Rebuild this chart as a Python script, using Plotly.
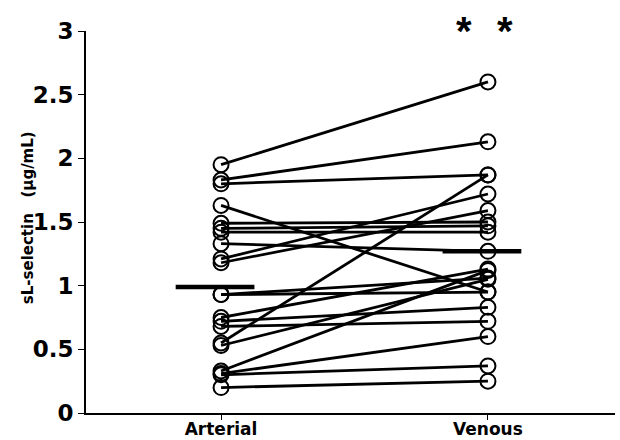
import plotly.graph_objects as go

categories = ["Arterial", "Venous"]
arterial = [1.95, 1.83, 1.80, 1.63, 1.49, 1.45, 1.42, 1.33, 1.21, 1.18, 0.93,
            0.93, 0.75, 0.72, 0.68, 0.55, 0.53, 0.33, 0.31, 0.30, 0.20]
venous = [2.60, 2.13, 1.87, 0.95, 1.50, 1.47, 1.42, 1.27, 1.72, 1.59, 0.95,
          1.06, 1.13, 0.83, 0.72, 1.87, 1.05, 1.12, 0.60, 0.37, 0.25]
group_means = [0.99, 1.27]
y_ticks = [0, 0.5, 1, 1.5, 2, 2.5, 3]
y_tick_labels = ["0", "0.5", "1", "1.5", "2", "2.5", "3"]

xs, ys = [], []
for a, v in zip(arterial, venous):
    xs += [0, 1, None]
    ys += [a, v, None]

fig = go.Figure()
fig.add_trace(go.Scatter(x=xs, y=ys, mode="lines+markers",
                         line=dict(color="black", width=2.8),
                         marker=dict(symbol="circle-open", size=15, color="black",
                                     line=dict(width=2, color="black")),
                         hoverinfo="skip", showlegend=False))
# mean bars
for i, m in enumerate(group_means):
    fig.add_trace(go.Scatter(x=[i - 0.17, i + 0.125], y=[m, m], mode="lines",
                             line=dict(color="black", width=4.5),
                             hoverinfo="skip", showlegend=False))

fig.update_layout(
    width=620, height=440,
    margin=dict(l=86, r=5, t=31, b=27),
    plot_bgcolor="white", paper_bgcolor="white",
    xaxis=dict(range=[-0.506, 1.476], tickvals=[0, 1], ticktext=categories,
               automargin=False,
               showgrid=False, zeroline=False, showline=True, linecolor="black",
               linewidth=2, ticks="outside", ticklen=5, tickwidth=1, tickcolor="black",
               ticklabelstandoff=-5,
               tickfont=dict(family="DejaVu Sans", size=17, color="black", weight="bold")),
    yaxis=dict(range=[0, 3], tickvals=y_ticks, ticktext=y_tick_labels,
               automargin=False,
               showgrid=False, zeroline=False, showline=True, linecolor="black",
               linewidth=2, ticks="outside", ticklen=6, tickwidth=1, tickcolor="black",
               tickfont=dict(family="DejaVu Sans", size=23, color="black", weight="bold")),
    annotations=[
        dict(text="sL-selectin   (µg/mL)", textangle=-90, xref="paper", yref="paper",
             x=(28 - 86) / 529, y=0.51, xanchor="center", yanchor="middle", showarrow=False,
             font=dict(family="DejaVu Sans", size=15, color="black", weight="bold")),
        dict(text="*", xref="x", yref="paper", x=(464 - 221) / 267, y=1.0,
             xanchor="center", yanchor="middle", showarrow=False,
             font=dict(family="Liberation Sans", size=40, color="black", weight="bold")),
        dict(text="*", xref="x", yref="paper", x=(505 - 221) / 267, y=1.0,
             xanchor="center", yanchor="middle", showarrow=False,
             font=dict(family="Liberation Sans", size=40, color="black", weight="bold")),
    ],
)

fig.write_html("out.html")
